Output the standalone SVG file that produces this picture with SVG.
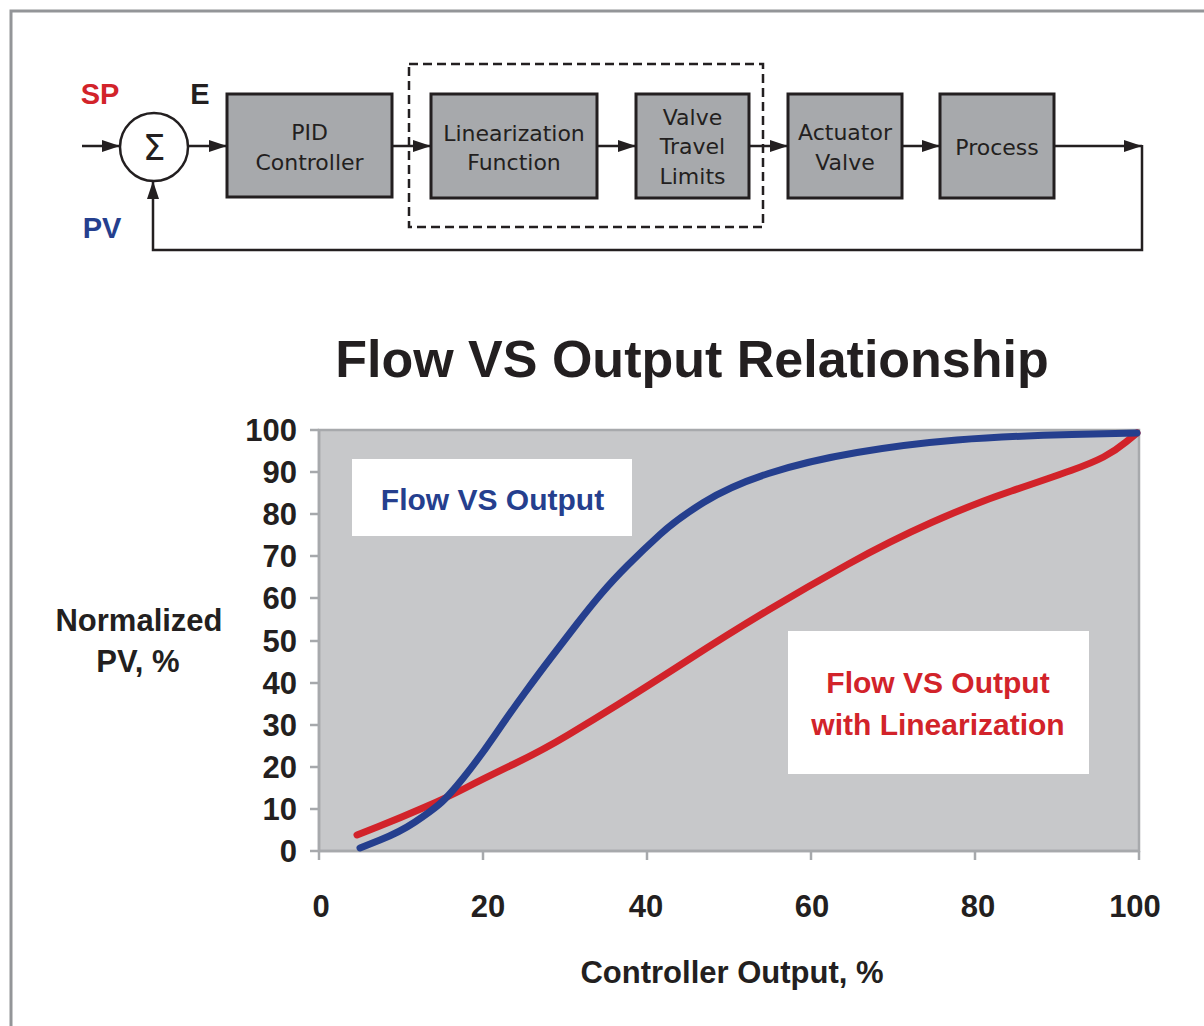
<svg xmlns="http://www.w3.org/2000/svg" width="1204" height="1026" viewBox="0 0 1204 1026">
<style>
.blk{fill:#a7a9ac;stroke:#231f20;stroke-width:3}
.bt{font-family:"DejaVu Sans",sans-serif;font-size:22px;fill:#231f20;text-anchor:middle}
.ln{fill:none;stroke:#231f20;stroke-width:2.5}
.bold{font-family:"Liberation Sans",Arial,sans-serif;font-weight:bold;fill:#231f20}
.yl{font-size:31px;text-anchor:end}
.xl{font-size:31px;text-anchor:middle}
.tick{stroke:#a7a9ac;stroke-width:2.5}
</style>
<defs>
<marker id="ah" markerUnits="userSpaceOnUse" markerWidth="18" markerHeight="12" refX="18" refY="6" orient="auto">
<path d="M0,0 L18,6 L0,12 z" fill="#231f20"/>
</marker>
</defs>
<rect width="1204" height="1026" fill="#ffffff"/>
<path d="M11,1026 L11,11 L1204,11" fill="none" stroke="#939598" stroke-width="3"/>

<g id="labels-top">
<text class="bold" x="100" y="104" font-size="29" text-anchor="middle" style="fill:#d2232a">SP</text>
<text class="bold" x="200" y="104" font-size="29" text-anchor="middle">E</text>
<text class="bold" x="102" y="238" font-size="29" text-anchor="middle" style="fill:#253f8e">PV</text>
</g>

<g id="sum">
<circle cx="154" cy="147" r="34" fill="#ffffff" stroke="#231f20" stroke-width="2.5"/>
<text x="154" y="160" font-family="DejaVu Sans, sans-serif" font-size="36" text-anchor="middle" fill="#231f20">Σ</text>
</g>

<g id="group-box">
<rect x="409" y="64" width="354" height="163" fill="none" stroke="#231f20" stroke-width="2.5" stroke-dasharray="9 5"/>
</g>

<g id="pid">
<rect class="blk" x="227" y="94" width="165" height="103"/>
<text class="bt" x="309.5" y="140">PID</text>
<text class="bt" x="309.5" y="170">Controller</text>
</g>
<g id="linearization">
<rect class="blk" x="431" y="94" width="166" height="104"/>
<text class="bt" x="514" y="141">Linearization</text>
<text class="bt" x="514" y="170">Function</text>
</g>
<g id="valve-limits">
<rect class="blk" x="636" y="94" width="113" height="104"/>
<text class="bt" x="692.5" y="125">Valve</text>
<text class="bt" x="692.5" y="154">Travel</text>
<text class="bt" x="692.5" y="184">Limits</text>
</g>
<g id="actuator">
<rect class="blk" x="788" y="94" width="114" height="104"/>
<text class="bt" x="845" y="140">Actuator</text>
<text class="bt" x="845" y="170">Valve</text>
</g>
<g id="process">
<rect class="blk" x="940" y="94" width="114" height="104"/>
<text class="bt" x="997" y="155">Process</text>
</g>

<g id="connectors">
<line class="ln" x1="82" y1="146" x2="120" y2="146" marker-end="url(#ah)"/>
<line class="ln" x1="188" y1="146" x2="227" y2="146" marker-end="url(#ah)"/>
<line class="ln" x1="392" y1="146" x2="431" y2="146" marker-end="url(#ah)"/>
<line class="ln" x1="597" y1="146" x2="636" y2="146" marker-end="url(#ah)"/>
<line class="ln" x1="749" y1="146" x2="788" y2="146" marker-end="url(#ah)"/>
<line class="ln" x1="902" y1="146" x2="940" y2="146" marker-end="url(#ah)"/>
<line class="ln" x1="1054" y1="146" x2="1142" y2="146" marker-end="url(#ah)"/>
<polyline class="ln" points="1142,145 1142,250 153,250 153,181" marker-end="url(#ah)"/>
</g>

<g id="chart">
<text class="bold" x="692" y="377" font-size="52" text-anchor="middle">Flow VS Output Relationship</text>
<rect x="319" y="430" width="820" height="421" fill="#c7c8ca" stroke="#a7a9ac" stroke-width="2.5"/>
<g class="tick">
<line x1="310" y1="851" x2="1139" y2="851"/>
<line x1="319" y1="430" x2="319" y2="851"/>
<line x1="310" y1="809" x2="319" y2="809"/>
<line x1="310" y1="767" x2="319" y2="767"/>
<line x1="310" y1="725" x2="319" y2="725"/>
<line x1="310" y1="683" x2="319" y2="683"/>
<line x1="310" y1="641" x2="319" y2="641"/>
<line x1="310" y1="598" x2="319" y2="598"/>
<line x1="310" y1="556" x2="319" y2="556"/>
<line x1="310" y1="514" x2="319" y2="514"/>
<line x1="310" y1="472" x2="319" y2="472"/>
<line x1="310" y1="430" x2="319" y2="430"/>
<line x1="319" y1="851" x2="319" y2="860"/>
<line x1="483" y1="851" x2="483" y2="860"/>
<line x1="647" y1="851" x2="647" y2="860"/>
<line x1="811" y1="851" x2="811" y2="860"/>
<line x1="975" y1="851" x2="975" y2="860"/>
<line x1="1139" y1="851" x2="1139" y2="860"/>
</g>
<g class="bold yl">
<text x="297" y="862">0</text>
<text x="297" y="820">10</text>
<text x="297" y="778">20</text>
<text x="297" y="736">30</text>
<text x="297" y="694">40</text>
<text x="297" y="652">50</text>
<text x="297" y="609">60</text>
<text x="297" y="567">70</text>
<text x="297" y="525">80</text>
<text x="297" y="483">90</text>
<text x="297" y="441">100</text>
</g>
<g class="bold xl">
<text x="321" y="917">0</text>
<text x="488" y="917">20</text>
<text x="646" y="917">40</text>
<text x="812" y="917">60</text>
<text x="978" y="917">80</text>
<text x="1135" y="917">100</text>
</g>
<text class="bold" x="732" y="983" font-size="31" text-anchor="middle">Controller Output, %</text>
<text class="bold" x="139" y="631" font-size="31" text-anchor="middle">Normalized</text>
<text class="bold" x="138" y="672" font-size="31" text-anchor="middle">PV, %</text>

<rect x="352" y="459" width="280" height="77" fill="#ffffff"/>
<text class="bold" x="492.5" y="510" font-size="30" text-anchor="middle" style="fill:#253f8e">Flow VS Output</text>
<rect x="788" y="631" width="301" height="143" fill="#ffffff"/>
<text class="bold" x="938" y="693" font-size="30" text-anchor="middle" style="fill:#d2232a">Flow VS Output</text>
<text class="bold" x="938" y="735" font-size="30" text-anchor="middle" style="fill:#d2232a">with Linearization</text>

<path d="M357,835 L378.5,826.5 Q400,818 424,807.5 Q448,797 465.5,788 Q483,779 513,764.5 Q543,750 568,735 Q593,720 618,704.5 Q643,689 686.5,661 Q730,633 768.5,610 Q807,587 848.5,564 Q890,541 931.5,522.5 Q973,504 1011.5,491 Q1050,478 1071,470.5 Q1092,463 1103.5,457 Q1115,451 1126,442 L1137,433" fill="none" stroke="#d2232a" stroke-width="7" stroke-linecap="round" stroke-linejoin="round"/>
<path d="M360,848 L380,840 Q400,832 415,822 Q430,812 439,804.5 Q448,797 464,777 Q480,757 495,735 Q510,713 525,692.5 Q540,672 551.5,657 Q563,642 576.5,624.5 Q590,607 601.5,593.5 Q613,580 628,565 Q643,550 660,534.5 Q677,519 703.5,502.5 Q730,486 768.5,473.5 Q807,461 857,452.5 Q907,444 957,440 Q1007,436 1072,434.5 L1137,433" fill="none" stroke="#253f8e" stroke-width="7" stroke-linecap="round" stroke-linejoin="round"/>
</g>
</svg>
